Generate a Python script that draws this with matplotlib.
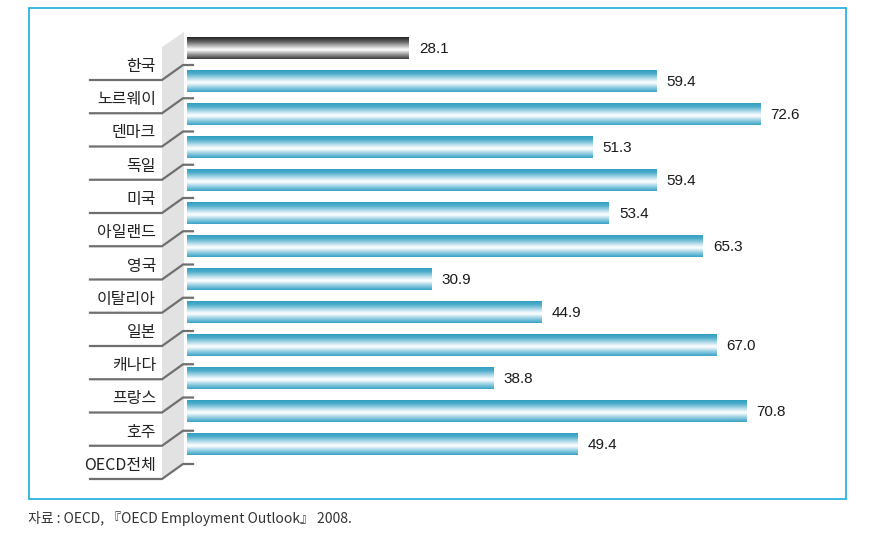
import matplotlib
matplotlib.use("Agg")
import matplotlib.pyplot as plt
import numpy as np
from matplotlib.colors import LinearSegmentedColormap
from matplotlib.patches import Polygon, Rectangle

plt.rcParams['font.family'] = ['Noto Sans CJK KR', 'DejaVu Sans']

categories = ["한국", "노르웨이", "덴마크", "독일", "미국", "아일랜드", "영국",
              "이탈리아", "일본", "캐나다", "프랑스", "호주", "OECD전체"]
values = [28.1, 59.4, 72.6, 51.3, 59.4, 53.4, 65.3, 30.9, 44.9, 67.0, 38.8, 70.8, 49.4]
value_labels = ["28.1", "59.4", "72.6", "51.3", "59.4", "53.4", "65.3",
                "30.9", "44.9", "67.0", "38.8", "70.8", "49.4"]
source_text = "자료 : OECD, 『OECD Employment Outlook』 2008."

W, H = 891, 555
X0, SX = 187.0, 7.9      # pixel of value 0, pixels per unit
Y0, SY = 48.0, 33.0      # pixel of first bar centre, pixels per category


def X(px):
    return (px - X0) / SX


def Y(py):
    return (py - Y0) / SY


fig = plt.figure(figsize=(W / 100, H / 100), dpi=100)
ax = fig.add_axes([0, 0, 1, 1])
ax.set_axis_off()

# frame
ax.add_patch(Rectangle((X(29), Y(8)), X(846) - X(29), Y(499) - Y(8),
                       fill=False, edgecolor="#2bb3df", lw=1.3, zorder=1))

# wall
wall = Polygon([(X(162), Y(47)), (X(184), Y(32)), (X(184), Y(463)), (X(162), Y(479))],
               closed=True, facecolor="#e2e2e2", edgecolor="none", zorder=1)
ax.add_patch(wall)

blue_cmap = LinearSegmentedColormap.from_list(
    "blue", [(0.0, "#2a9bbd"), (0.2, "#4fadcc"), (0.5, "#dff1f7"), (0.6, "#ffffff"),
             (0.78, "#9fd3e5"), (1.0, "#3aa3c6")])
dark_cmap = LinearSegmentedColormap.from_list(
    "dark", [(0.0, "#161616"), (0.25, "#666666"), (0.5, "#d8d8d8"), (0.6, "#ffffff"),
             (0.8, "#9a9a9a"), (1.0, "#3c3c3c")])

ypos = np.arange(len(categories))
bar_h = 23.0 / SY
bars = ax.barh(ypos, values, height=bar_h, left=0, color="none", zorder=3)
grad = np.linspace(0, 1, 64).reshape(-1, 1)
for i, (b, v) in enumerate(zip(bars, values)):
    cmap = dark_cmap if i == 0 else blue_cmap
    im = ax.imshow(grad, cmap=cmap, aspect="auto", origin="upper",
                   extent=(0, v, i + bar_h / 2, i - bar_h / 2), zorder=2,
                   interpolation="bilinear")
    im.set_clip_path(b)
    ax.text(v + 10 / SX, i + 1 / SY, value_labels[i], ha="left", va="center",
            fontsize=11, family=["Liberation Sans"], color="#1a1a1a", zorder=4)

# label lines and labels
line_c = "#6f6f6f"
for i, lab in enumerate(categories):
    ly = Y(80 + 33.25 * i)
    top = ly - 15 / SY
    ax.plot([X(90), X(162), X(183), X(193)], [ly, ly, top, top],
            color=line_c, lw=1.6, solid_joinstyle="miter", zorder=2)
    ax.text(X(156), ly - 5 / SY, lab, ha="right", va="bottom", fontsize=11.5,
            color="#222222", zorder=4)

ax.text(X(28), Y(518), source_text, ha="left", va="center", fontsize=10,
        color="#333333")

ax.set_xlim(X(0), X(W))
ax.set_ylim(Y(H), Y(0))

fig.savefig("out.png", dpi=100)
